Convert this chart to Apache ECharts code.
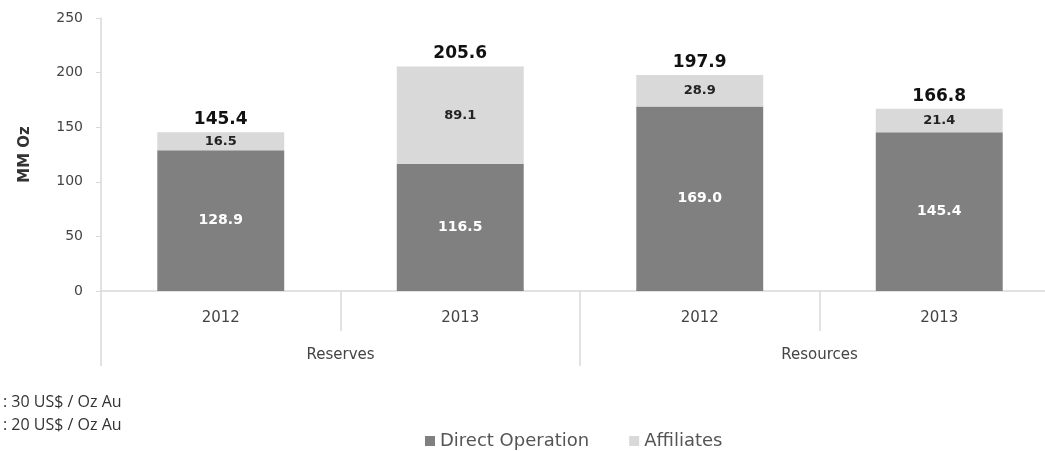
<!DOCTYPE html>
<html>
<head>
<meta charset="utf-8">
<script src="https://cdn.jsdelivr.net/npm/echarts@6/dist/echarts.min.js"></script>
<style>html,body{margin:0;padding:0;background:#fff;}#c{width:1045px;height:451px;}</style>
</head>
<body>
<div id="c"></div>
<script>
var years = ['2012', '2013', '2012', '2013'];
var groups = ['Reserves', 'Resources'];
var directOperation = [128.9, 116.5, 169.0, 145.4];
var affiliates = [16.5, 89.1, 28.9, 21.4];
var yTicks = { min: 0, max: 250, interval: 50 };
var notes = [': 30 US$ / Oz Au', ': 20 US$ / Oz Au'];

var totals = directOperation.map(function (v, i) { return +(v + affiliates[i]).toFixed(1); });
var F = 'DejaVu Sans';
var chart = echarts.init(document.getElementById('c'));
chart.setOption({
  animation: false,
  backgroundColor: '#ffffff',
  title: [
    { text: notes[0], left: -2, top: 389, textStyle: { fontFamily: 'Open Sans', fontSize: 16, fontWeight: 'normal', color: '#333' } },
    { text: notes[1], left: -2, top: 412, textStyle: { fontFamily: 'Open Sans', fontSize: 16, fontWeight: 'normal', color: '#333' } }
  ],
  legend: {
    data: ['Direct Operation', 'Affiliates'],
    left: 420, top: 427,
    icon: 'rect', itemWidth: 10, itemHeight: 10, itemGap: 40,
    textStyle: { fontFamily: F, fontSize: 18, color: '#555' }
  },
  grid: { left: 101, width: 958, top: 18, bottom: 160, containLabel: false, outerBoundsMode: 'none' },
  xAxis: [
    {
      type: 'category', data: years, position: 'bottom',
      axisLine: { show: true, lineStyle: { color: '#d9d9d9', width: 1.5 } },
      axisTick: { show: true, interval: 0, length: 40, lineStyle: { color: '#d9d9d9', width: 1.5 } },
      axisLabel: { interval: 0, margin: 20, fontFamily: F, fontSize: 15, color: '#444' }
    },
    {
      type: 'category', data: groups, position: 'bottom',
      axisLine: { show: false },
      axisTick: { show: true, interval: 0, length: 75, lineStyle: { color: '#d9d9d9', width: 1.5 } },
      axisLabel: { interval: 0, margin: 57, fontFamily: F, fontSize: 15, color: '#444' }
    }
  ],
  yAxis: {
    type: 'value', min: yTicks.min, max: yTicks.max, interval: yTicks.interval,
    name: 'MM Oz', nameLocation: 'middle', nameGap: 68, nameRotate: 90,
    nameTextStyle: { fontFamily: F, fontSize: 15, fontWeight: 'bold', color: '#333' },
    axisLine: { show: true, lineStyle: { color: '#d9d9d9', width: 1.5 } },
    axisTick: { show: true, length: 5, lineStyle: { color: '#d9d9d9' } },
    splitLine: { show: false },
    axisLabel: { margin: 18, fontFamily: F, fontSize: 14, color: '#444' }
  },
  series: [
    {
      name: 'Direct Operation', type: 'bar', stack: 's', data: directOperation, barWidth: '53%',
      itemStyle: { color: '#808080' },
      label: { show: true, position: 'inside', fontFamily: F, fontSize: 14, fontWeight: 'bold', color: '#ffffff',
        formatter: function (p) { return p.value.toFixed(1); } }
    },
    {
      name: 'Affiliates', type: 'bar', stack: 's', data: affiliates,
      itemStyle: { color: '#d9d9d9' },
      label: { show: true, position: 'inside', fontFamily: F, fontSize: 13, fontWeight: 'bold', color: '#222',
        formatter: function (p) { return p.value.toFixed(1); } }
    },
    {
      name: 'Total', type: 'bar', stack: 's', data: totals.map(function () { return 0; }),
      itemStyle: { color: 'transparent' },
      label: { show: true, position: 'top', distance: 4, fontFamily: F, fontSize: 17, fontWeight: 'bold', color: '#111',
        formatter: function (p) { return totals[p.dataIndex].toFixed(1); } }
    }
  ]
});
</script>
</body>
</html>
